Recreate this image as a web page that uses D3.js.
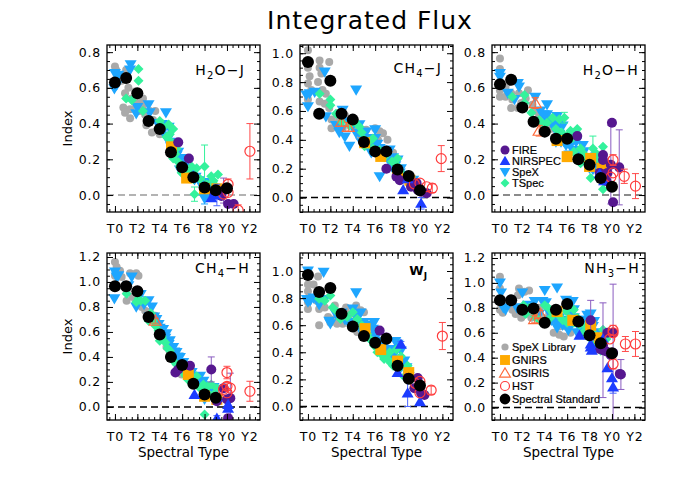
<!DOCTYPE html>
<html><head><meta charset="utf-8">
<script src="https://cdn.jsdelivr.net/npm/d3@7"></script>
<style>body{margin:0;background:#fff}svg{display:block}</style>
</head><body><svg id="c" width="692" height="494"></svg>
<script>
// ---------- tick labels / categories ----------
const SPT_TICKS = [0, 2, 4, 6, 8, 10, 12];
const SPT_LABELS = ["T0", "T2", "T4", "T6", "T8", "Y0", "Y2"];
const TITLE = "Integrated Flux";

// ---------- H2O-J ----------
const h2oj_std = [[0,0.63],[1,0.655],[2,0.57],[3,0.415],[4,0.37],[5,0.24],[6,0.155],[7,0.10],[8,0.042],[9,0.027],[10,0.038]];
const h2oj_lib = [[0,0.72],[0.1,0.70],[1.0,0.70],[0.15,0.66],[0.6,0.64],[1.2,0.6],[0.9,0.57],[1.5,0.54],[0.75,0.49],[0.9,0.46],[1.35,0.48],[1.9,0.5],[2.1,0.52],[2.5,0.5],[2.2,0.47],[1.35,0.43],[2.7,0.45],[3.1,0.47],[3.6,0.47],[3.4,0.42],[2.8,0.39],[3.3,0.35],[3.7,0.36],[4.0,0.34],[4.3,0.39],[2.5,0.54],[1.8,0.58],[2.2,0.55]];
const h2oj_spex = [[0,0.68],[0.15,0.615],[-0.05,0.595],[0.3,0.67],[1.4,0.73],[1.35,0.70],[2.0,0.49],[1.9,0.455],[3.0,0.505],[3.1,0.46],[4.55,0.46],[4.2,0.395],[4.8,0.38],[4.9,0.295],[5.35,0.28],[5.65,0.24],[5.4,0.225],[6.1,0.205],[6.4,0.185],[5.8,0.14],[6.1,0.115],[6.85,0.125],[7.1,0.085],[7.6,0.07],[8.0,0.07],[8.2,0.035],[8.0,-0.02,0.03],[8.5,0.04],[9.1,0.035],[4.5,0.33],[4.7,0.31],[5.0,0.27],[5.2,0.25],[5.5,0.22],[5.7,0.2],[6.0,0.17],[6.3,0.15],[6.6,0.13],[6.9,0.1],[7.2,0.1],[7.5,0.08],[7.8,0.06],[8.3,0.05],[8.7,0.02],[4.3,0.36],[3.8,0.4],[5.9,0.19]];
const h2oj_tspec = [[2.1,0.705],[2.1,0.64],[1.0,0.54],[1.5,0.53],[2.5,0.47],[4.0,0.415],[4.8,0.395],[5.2,0.37],[4.6,0.325],[4.9,0.34],[5.5,0.26],[5.2,0.205],[5.65,0.185],[5.95,0.125],[6.4,0.14],[6.85,0.16],[7.3,0.15],[7.1,0.005,0.04],[8.0,0.16,0.12],[8.6,0.105],[8.8,0.08],[9.2,0.115],[4.3,0.38],[5.0,0.3],[5.4,0.23],[5.8,0.16],[6.1,0.15],[6.6,0.12],[7.0,0.09],[7.6,0.09],[8.2,0.06],[9.0,0.05]];
const h2oj_fire = [[5.65,0.295],[6.6,0.205],[8.9,0.005],[9.5,-0.005],[10.1,-0.05],[10.6,-0.05],[9.7,0.025,0.07]];
const h2oj_nirspec = [[9.1,0.0,0.06],[8.6,-0.015]];
const h2oj_gnirs = [[5.05,0.27],[6.4,0.095],[8.0,0.035],[9.1,0.035]];
const h2oj_osiris = [];
const h2oj_hst = [[12.05,0.245,0.155],[10.1,0.06,0.03],[10.1,0.015],[9.7,0.005],[11.0,-0.085,0.03]];

// ---------- CH4-J ----------
const ch4j_std = [[0,0.94],[1,0.58],[2,0.81],[3,0.58],[4,0.54],[5,0.385],[6,0.32],[7,0.32],[8,0.195],[9,0.15],[10,0.05]];
const ch4j_lib = [[0,1.02],[0,0.9],[0.15,0.84],[0,0.79],[0.3,0.745],[0,0.68],[1.04,0.95],[1.04,0.9],[1.2,0.86],[1.9,0.94],[0.9,0.8],[1.3,0.745],[1.6,0.72],[1.04,0.665],[1.5,0.65],[1.9,0.62],[2.1,0.54],[2.1,0.48],[2.5,0.515],[2.8,0.55],[3.3,0.57],[3.7,0.54],[3.1,0.48],[4.0,0.5],[4.5,0.48],[5.2,0.47],[6.0,0.48],[6.4,0.46],[6.7,0.445],[6.25,0.4],[5.65,0.355],[7.1,0.4],[7.6,0.31],[4.6,0.42]];
const ch4j_spex = [[-0.15,0.71],[0.15,0.72],[0,0.63],[1.5,0.87],[4.3,0.745],[0.6,0.73],[1.6,0.56],[3.0,0.475],[3.1,0.605],[3.6,0.525],[4.0,0.5],[4.6,0.505],[3.7,0.355],[4.3,0.445],[4.9,0.435],[5.2,0.455],[5.5,0.41],[6.0,0.47],[6.0,0.41],[5.65,0.31],[6.4,0.34],[6.85,0.31],[7.3,0.33],[7.6,0.275],[7.0,0.285],[8.0,0.26],[8.2,0.17],[7.9,0.25],[7.6,0.2],[6.4,0.145],[8.5,0.155],[9.1,0.12],[9.4,0.12],[4.8,0.42],[5.3,0.38],[5.8,0.36],[6.2,0.37],[6.6,0.3],[7.1,0.27],[7.4,0.24],[7.8,0.22],[8.3,0.2],[8.7,0.14],[9.0,0.1],[2.5,0.5],[2.8,0.45],[3.3,0.42],[4.8,0.38]];
const ch4j_tspec = [[1.04,0.72],[2.0,0.68],[2.0,0.64],[3.0,0.525],[3.7,0.5],[4.6,0.49],[4.2,0.525],[5.06,0.4],[5.5,0.39],[5.06,0.355],[5.8,0.41],[6.4,0.33],[7.0,0.3],[8.0,0.27],[7.9,0.225],[8.2,0.18],[5.8,0.34],[6.8,0.28],[7.5,0.25],[8.5,0.15],[8.8,0.12],[4.8,0.45],[2.5,0.58]];
const ch4j_fire = [[7.0,0.2],[7.9,0.145],[8.2,0.12],[9.7,0.1],[9.8,0.055],[10.1,0.04],[10.6,0.03],[9.2,0.075]];
const ch4j_nirspec = [[8.5,0.055],[10.1,-0.04,0.04],[8.9,0.13]];
const ch4j_gnirs = [[5.06,0.38],[6.5,0.285],[8.0,0.17],[9.1,0.12]];
const ch4j_osiris = [[3.0,0.525,0.03],[3.6,0.49,0.03]];
const ch4j_hst = [[11.9,0.27,0.09],[9.5,0.095],[10.0,0.1],[10.6,0.075],[11.1,0.065,0.03]];

// ---------- H2O-H ----------
const h2oh_std = [[0,0.62],[1,0.645],[2,0.49],[3,0.41],[4,0.355],[5,0.315],[6,0.315],[7,0.2],[8,0.17],[9,0.095],[10,0.047]];
const h2oh_lib = [[0,0.765],[0,0.705],[0,0.585],[0.5,0.605],[0,0.55],[0.5,0.55],[1.0,0.57],[1.1,0.535],[1.0,0.487],[1.6,0.487],[1.9,0.515],[2.3,0.54],[2.9,0.505],[3.2,0.47],[3.5,0.45],[3.7,0.405],[4.1,0.387],[4.5,0.37],[2.5,0.587],[1.7,0.57],[3.8,0.36],[4.85,0.324]];
const h2oh_spex = [[0,0.68],[0,0.66],[0.7,0.57],[1.6,0.625],[1.7,0.605],[1.3,0.535],[3.15,0.547],[4.2,0.505],[4.2,0.45],[4.05,0.433],[5.1,0.44],[5.3,0.405],[4.7,0.396],[5.6,0.387],[5.0,0.36],[5.0,0.296],[5.45,0.296],[5.9,0.278],[6.3,0.278],[6.8,0.296],[7.4,0.278],[7.5,0.242],[7.7,0.187],[8.1,0.196],[8.3,0.142],[6.2,0.224],[8.6,0.215],[4.5,0.42],[4.8,0.38],[5.3,0.34],[5.7,0.3],[6.0,0.3],[6.5,0.25],[7.0,0.25],[7.2,0.23],[7.8,0.21],[8.0,0.15],[8.8,0.17],[3.6,0.47],[3.9,0.45]];
const h2oh_tspec = [[1.1,0.55],[2.2,0.56],[2.2,0.515],[2.8,0.46],[4.2,0.405],[4.7,0.433],[5.3,0.424],[5.75,0.433,0.03],[6.3,0.36],[6.8,0.35],[6.9,0.37],[6.6,0.242],[7.2,0.26],[8.3,0.26,0.07],[8.6,0.233],[9.2,0.27],[8.1,0.096],[9.2,0.033],[7.2,0.178],[9.5,0.133],[3.5,0.42],[3.8,0.4],[5.0,0.37],[5.5,0.35],[6.0,0.33],[6.5,0.32],[7.5,0.23],[7.8,0.2],[8.8,0.2],[9.0,0.15],[9.3,0.19]];
const h2oh_fire = [[9.9,0.17,0.22],[10.0,0.405],[10.65,0.155,0.21],[10.1,-0.04],[9.2,0.224],[9.2,0.196],[9.6,0.124],[9.5,0.078],[8.9,0.124],[6.9,0.33]];
const h2oh_nirspec = [[8.9,0.12],[9.3,0.08]];
const h2oh_gnirs = [[5.1,0.305],[6.0,0.215],[8.1,0.205],[9.1,0.15],[8.0,0.16]];
const h2oh_osiris = [[3.15,0.515,0.03],[3.5,0.36,0.03]];
const h2oh_hst = [[10.1,0.196,0.03],[10.1,0.124],[11.1,0.105,0.04],[12.1,0.05,0.07],[9.9,0.1]];

// ---------- CH4-H ----------
const ch4h_std = [[0,0.965],[1,0.965],[2,0.925],[3,0.72],[4,0.58],[5,0.40],[6,0.335],[7,0.185],[8,0.10],[9,0.073]];
const ch4h_lib = [[0,1.16],[0.15,1.12],[0.45,1.09],[0,1.05],[0.6,1.04],[1.35,1.07],[1.9,1.07],[2.1,1.05],[1.04,0.92],[1.04,0.85],[1.6,0.88],[2.2,0.84],[2.4,0.8],[2.7,0.77],[3.1,0.76],[3.6,0.73],[3.7,0.69],[4.0,0.56],[4.6,0.48],[4.9,0.435],[5.4,0.38],[5.8,0.34],[6.4,0.315],[6.85,0.234],[5.95,0.26]];
const ch4h_spex = [[0,1.08],[0.15,1.04],[-0.05,0.865],[1.5,1.04],[1.9,0.8],[3.0,0.85],[3.3,0.8],[3.1,0.72],[3.9,0.66],[4.3,0.62],[4.2,0.555],[4.6,0.585],[4.9,0.53],[5.2,0.475],[5.5,0.435],[5.8,0.395],[6.1,0.355],[6.5,0.3],[6.85,0.275],[7.1,0.22],[7.6,0.245],[7.9,0.205],[8.2,0.155],[8.8,0.155],[8.0,0.06],[0.3,1.05],[1.2,0.97],[2.3,0.9],[2.6,0.82],[3.5,0.72],[3.7,0.7],[4.0,0.63],[4.5,0.55],[4.8,0.5],[5.3,0.44],[5.6,0.4],[6.0,0.33],[6.3,0.3],[6.7,0.26],[7.0,0.24],[7.4,0.2],[7.8,0.17],[8.5,0.12]];
const ch4h_tspec = [[1.04,0.905],[2.1,0.865],[1.9,0.84],[2.7,0.85],[3.0,0.69],[3.4,0.69],[3.9,0.61],[4.0,0.53],[4.5,0.515],[4.9,0.45],[5.2,0.37],[5.5,0.34],[6.1,0.275],[6.5,0.22],[7.3,0.245],[7.9,0.18],[8.3,0.165],[9.1,0.15],[8.0,-0.06],[8.6,0.18],[2.3,0.85],[3.2,0.75],[3.6,0.65],[4.2,0.56],[4.7,0.47],[5.0,0.4],[5.8,0.3],[6.3,0.25],[6.8,0.2],[7.1,0.18],[7.6,0.15],[8.2,0.12],[8.8,0.1]];
const ch4h_fire = [[5.4,0.275],[5.65,0.3],[6.7,0.33],[8.6,0.3,0.1],[9.1,0.045],[10.0,0.06],[10.3,0.07,0.2],[10.1,-0.09],[9.7,0.15]];
const ch4h_nirspec = [[7.1,0.1],[9.1,0.08],[10.1,0.02],[10.1,-0.01],[9.1,-0.09,0.02]];
const ch4h_gnirs = [[6.55,0.26],[8.0,0.085],[9.1,0.06]];
const ch4h_osiris = [[3.6,0.69,0.02]];
const ch4h_hst = [[10.0,0.275,0.05],[10.0,0.165,0.03],[9.7,0.14],[10.3,0.15],[12.05,0.125,0.08],[10.0,0.113]];

// ---------- W_J ----------
const wj_std = [[0,0.97],[1,0.845],[2,0.875],[3,0.685],[4,0.59],[5,0.52],[6,0.47],[7,0.50],[8,0.30],[9,0.205],[10,0.155]];
const wj_lib = [[0,1.0],[0,0.9],[0,0.85],[0,0.77],[0,0.72],[0.5,0.9],[0.8,0.78],[0.9,0.96],[1.0,0.8],[1.3,0.755],[1.0,0.72],[1.5,0.73],[1.0,0.6],[1.8,0.66],[2.0,0.62],[2.4,0.745],[2.4,0.645],[3.0,0.67],[3.4,0.73],[3.7,0.68],[4.3,0.745],[4.7,0.71],[5.0,0.695],[4.1,0.63],[3.1,0.61],[2.6,0.61],[4.4,0.55]];
const wj_spex = [[0,1.0],[-0.1,0.79],[0.2,0.78],[0,0.77],[1.4,0.99],[1.5,0.79],[1.9,0.63],[2.0,0.61],[3.0,0.69],[4.3,0.84],[4.0,0.72],[4.3,0.66],[4.7,0.69],[5.0,0.62],[5.4,0.6],[5.8,0.57],[5.9,0.62],[5.4,0.51],[5.9,0.5],[6.2,0.53],[6.6,0.47],[6.9,0.46],[7.4,0.42],[7.8,0.48],[8.0,0.46],[7.7,0.385],[8.3,0.41],[8.6,0.335],[8.8,0.285],[8.2,0.275],[0.5,0.8],[1.0,0.75],[2.5,0.68],[3.3,0.64],[3.6,0.62],[4.5,0.6],[4.8,0.55],[5.2,0.56],[5.6,0.52],[6.0,0.48],[6.4,0.44],[7.0,0.42],[7.2,0.38],[7.6,0.35],[8.4,0.3],[9.0,0.22]];
const wj_tspec = [[1.0,0.795],[2.0,0.82],[2.2,0.73],[2.9,0.645],[4.0,0.695],[4.4,0.645],[5.0,0.57],[5.3,0.535],[5.7,0.485],[6.1,0.445],[6.4,0.42],[6.8,0.37],[7.3,0.4],[7.9,0.42],[8.0,0.335],[8.3,0.37],[8.9,0.26],[8.9,0.3],[6.8,0.35],[7.4,0.32],[1.5,0.78],[2.6,0.7],[3.5,0.66],[4.8,0.6],[5.5,0.5],[5.9,0.45],[6.2,0.4],[6.6,0.38],[7.1,0.35],[7.6,0.3],[8.1,0.28],[8.6,0.22],[9.2,0.2]];
const wj_fire = [[6.4,0.56],[7.0,0.51],[8.9,0.21],[9.8,0.21],[10.1,0.1],[10.4,0.085],[9.5,0.135]];
const wj_nirspec = [[8.3,0.46,0.02],[10.0,0.035],[8.9,0.1,0.1],[8.0,0.25]];
const wj_gnirs = [[5.1,0.575],[6.5,0.42],[8.0,0.335],[9.0,0.25]];
const wj_osiris = [];
const wj_hst = [[12.0,0.52,0.1],[10.0,0.185],[10.0,0.1],[11.0,0.12,0.03],[9.6,0.17]];

// ---------- NH3-H ----------
const nh3h_std = [[0,0.86],[1,0.86],[2,0.785],[3,0.795],[4,0.68],[5,0.785],[6,0.83],[7,0.69],[8,0.58],[9,0.515],[10,0.435]];
const nh3h_lib = [[0,1.05],[0,0.955],[0,0.785],[0.25,0.76],[1.1,0.785],[1.4,0.75],[1.7,0.955],[2.2,0.93],[2.6,0.94],[1.9,0.72],[2.3,0.75],[2.8,0.72],[3.2,0.75],[3.8,0.72],[4.4,0.75],[4.7,0.695],[5.0,0.72],[5.3,0.65],[5.6,0.68],[4.8,0.6],[5.3,0.585],[5.9,0.65],[5.7,0.57],[6.3,0.6],[1.6,0.9],[3.5,0.8]];
const nh3h_spex = [[0,1.0],[0.1,0.92],[0.5,0.785],[2.0,0.92],[3.1,0.85],[4.0,0.94],[5.1,0.96],[4.1,0.84],[4.4,0.76],[5.0,0.69],[5.3,0.72],[5.1,0.64],[5.6,0.66],[5.9,0.86],[6.5,0.85],[6.6,0.785],[6.6,0.72],[6.9,0.67],[7.2,0.64],[7.5,0.7],[7.8,0.74],[8.1,0.75],[8.3,0.65],[8.0,0.61],[8.4,0.69],[0.3,0.8],[1.5,0.8],[2.5,0.82],[3.5,0.75],[3.8,0.85],[4.6,0.7],[5.8,0.7],[6.2,0.75],[6.9,0.6],[7.3,0.7],[7.7,0.6],[8.6,0.6],[8.8,0.55],[6.1,0.62]];
const nh3h_tspec = [[2.1,0.82],[2.3,0.75],[3.1,0.73],[4.0,0.82],[4.3,0.8],[4.7,0.76],[5.3,0.735],[5.9,0.775],[6.2,0.72],[6.6,0.785],[6.6,0.68],[7.1,0.665],[7.7,0.65],[8.1,0.625],[8.4,0.59],[8.9,0.56],[9.2,0.625],[8.6,0.535],[9.0,0.455],[8.0,0.56],[2.6,0.8],[3.5,0.7],[4.5,0.72],[5.0,0.78],[5.6,0.7],[6.0,0.68],[6.9,0.72],[7.4,0.6],[7.9,0.6],[8.3,0.55],[8.7,0.5],[9.5,0.55]];
const nh3h_fire = [[8.1,0.7,0.16],[9.2,0.46,0.38],[10.1,0.44,0.55],[9.6,0.6],[10.1,0.6],[9.2,0.5],[9.5,0.45],[10.7,0.27],[10.8,0.265,0.12],[8.9,0.47],[9.9,0.42]];
const nh3h_nirspec = [[7.1,0.58],[8.1,0.51],[8.1,0.485],[8.2,0.46],[9.6,0.32],[10.0,0.24],[10.1,0.165,0.05],[9.2,0.55]];
const nh3h_gnirs = [[5.1,0.77],[6.5,0.7],[8.1,0.66],[8.9,0.56]];
const nh3h_osiris = [[3.1,0.71,0.03],[3.6,0.75,0.03]];
const nh3h_hst = [[10.1,0.62,0.04],[10.1,0.6],[9.8,0.55],[10.1,0.35,0.04],[11.2,0.51,0.06],[12.1,0.51,0.1]];

// ---------- legends ----------
const LEGEND_A_KEYS = ["fire", "nirspec", "spex", "tspec"];
const LEGEND_A_LABELS = ["FIRE", "NIRSPEC", "SpeX", "TSpec"];
const LEGEND_B_KEYS = ["lib", "gnirs", "osiris", "hst", "std"];
const LEGEND_B_LABELS = ["SpeX Library", "GNIRS", "OSIRIS", "HST", "Spectral Standard"];

// ---------- panel table built from the arrays ----------
const panels = [
  {label:[["H",0],["2",1],["O\u2212J",0]], yDomain:[-0.095,0.84], zero:"#9a9a9a",
   d:{lib:h2oj_lib,spex:h2oj_spex,tspec:h2oj_tspec,gnirs:h2oj_gnirs,fire:h2oj_fire,nirspec:h2oj_nirspec,osiris:h2oj_osiris,hst:h2oj_hst,std:h2oj_std}},
  {label:[["CH",0],["4",1],["\u2212J",0]], yDomain:[-0.1,1.057], zero:"#000",
   d:{lib:ch4j_lib,spex:ch4j_spex,tspec:ch4j_tspec,gnirs:ch4j_gnirs,fire:ch4j_fire,nirspec:ch4j_nirspec,osiris:ch4j_osiris,hst:ch4j_hst,std:ch4j_std}},
  {label:[["H",0],["2",1],["O\u2212H",0]], yDomain:[-0.095,0.84], zero:"#666",
   d:{lib:h2oh_lib,spex:h2oh_spex,tspec:h2oh_tspec,gnirs:h2oh_gnirs,fire:h2oh_fire,nirspec:h2oh_nirspec,osiris:h2oh_osiris,hst:h2oh_hst,std:h2oh_std}, legend:"A"},
  {label:[["CH",0],["4",1],["\u2212H",0]], yDomain:[-0.105,1.232], zero:"#000",
   d:{lib:ch4h_lib,spex:ch4h_spex,tspec:ch4h_tspec,gnirs:ch4h_gnirs,fire:ch4h_fire,nirspec:ch4h_nirspec,osiris:ch4h_osiris,hst:ch4h_hst,std:ch4h_std}},
  {label:[["W",0],["J",1]], yDomain:[-0.1,1.133], zero:"#000", bold:true,
   d:{lib:wj_lib,spex:wj_spex,tspec:wj_tspec,gnirs:wj_gnirs,fire:wj_fire,nirspec:wj_nirspec,osiris:wj_osiris,hst:wj_hst,std:wj_std}},
  {label:[["NH",0],["3",1],["\u2212H",0]], yDomain:[-0.1,1.24], zero:"#000",
   d:{lib:nh3h_lib,spex:nh3h_spex,tspec:nh3h_tspec,gnirs:nh3h_gnirs,fire:nh3h_fire,nirspec:nh3h_nirspec,osiris:nh3h_osiris,hst:nh3h_hst,std:nh3h_std}, legend:"B"}
];

// ---------- styles ----------
const STYLE = {
  lib:    {shape:"circle", r:4,   fill:"#a9a9a9"},
  spex:   {shape:"tridown", r:6,  fill:"#1ea6ff"},
  tspec:  {shape:"diamond", r:5,  fill:"#33f29c"},
  gnirs:  {shape:"square", r:5.5, fill:"#ffaa00"},
  fire:   {shape:"circle", r:5,   fill:"#56178f"},
  nirspec:{shape:"triup", r:6,    fill:"#1c3cff"},
  osiris: {shape:"triup", r:6,    fill:"none", stroke:"#ff6a3a"},
  hst:    {shape:"circle", r:5,   fill:"none", stroke:"#ff3b3b"},
  std:    {shape:"circle", r:6,   fill:"#000"}
};
const ORDER = ["lib","spex","tspec","gnirs","fire","nirspec","osiris","hst","std"];
const ERRCOL = {lib:"#a9a9a9",spex:"#1ea6ff",tspec:"#33f29c",gnirs:"#ffaa00",fire:"#8a5cc0",nirspec:"#4a66ff",osiris:"#ff6a3a",hst:"#ff4a4a",std:"#000"};

function shapePath(shape, r) {
  if (shape === "tridown") return `M${-r},${-r*0.75}L${r},${-r*0.75}L0,${r*0.95}Z`;
  if (shape === "triup") return `M${-r},${r*0.75}L${r},${r*0.75}L0,${-r*0.95}Z`;
  if (shape === "diamond") return `M0,${-r}L${r},0L0,${r}L${-r},0Z`;
  if (shape === "square") return `M${-r},${-r}H${r}V${r}H${-r}Z`;
  return d3.arc()({innerRadius:0,outerRadius:r,startAngle:0,endAngle:2*Math.PI});
}

const svg = d3.select("#c");
const FONT = "DejaVu Sans, Liberation Sans, sans-serif";
const X_DOMAIN = [-0.71, 12.95];
const PW = 153, PH = 167;
const PX = [107, 300, 492], PY = [45, 253];
const LABEL_POS = [[245,75],[442,73],[639,75],[250,273],[427,275],[640,273]];

svg.append("text").attr("x", 370).attr("y", 29).attr("text-anchor","middle")
  .attr("font-family", FONT).attr("font-size", 25).attr("letter-spacing", 1)
  .attr("fill", "#000").text(TITLE);

panels.forEach((p, i) => {
  const col = i % 3, row = Math.floor(i / 3);
  const x0 = PX[col], y0 = PY[row];
  const g = svg.append("g").attr("transform", `translate(${x0},${y0})`);
  const x = d3.scaleLinear().domain(X_DOMAIN).range([0, PW]);
  const y = d3.scaleLinear().domain(p.yDomain).range([PH, 0]);

  g.append("clipPath").attr("id", "clip" + i).append("rect").attr("width", PW).attr("height", PH);
  const plot = g.append("g").attr("clip-path", `url(#clip${i})`);

  plot.append("line").attr("x1", 0).attr("x2", PW).attr("y1", y(0)).attr("y2", y(0))
    .attr("stroke", p.zero).attr("stroke-width", 1.5).attr("stroke-dasharray", "7,4");

  ORDER.forEach(k => {
    const data = p.d[k] || [];
    const st = STYLE[k];
    const errs = data.filter(v => v.length > 2);
    const eg = plot.append("g").attr("stroke", ERRCOL[k]).attr("stroke-width", 1);
    errs.forEach(v => {
      const xx = x(v[0]), ya = y(v[1] - v[2]), yb = y(v[1] + v[2]);
      eg.append("line").attr("x1", xx).attr("x2", xx).attr("y1", ya).attr("y2", yb);
      eg.append("line").attr("x1", xx - 3.5).attr("x2", xx + 3.5).attr("y1", ya).attr("y2", ya);
      eg.append("line").attr("x1", xx - 3.5).attr("x2", xx + 3.5).attr("y1", yb).attr("y2", yb);
    });
    plot.append("g").selectAll("path").data(data).join("path")
      .attr("transform", v => `translate(${x(v[0])},${y(v[1])})`)
      .attr("d", shapePath(st.shape, st.r))
      .attr("fill", st.fill).attr("stroke", st.stroke || "none").attr("stroke-width", 1.2);
  });

  // frame
  g.append("rect").attr("width", PW).attr("height", PH).attr("fill", "none")
    .attr("stroke", "#000").attr("stroke-width", 1.3);

  const yMaj = d3.range(0, p.yDomain[1] + 1e-6, 0.2);
  const yMin = d3.range(Math.ceil(p.yDomain[0] / 0.05) * 0.05, p.yDomain[1], 0.05);
  const xMin = d3.range(-0.5, 13, 0.5);
  const clean = s => s.call(a => a.select(".domain").remove());

  const axes = [
    [d3.axisBottom(x).tickValues(SPT_TICKS).tickSize(-6).tickPadding(0).tickFormat(""), `translate(0,${PH})`],
    [d3.axisBottom(x).tickValues(xMin).tickSize(-3).tickFormat(""), `translate(0,${PH})`],
    [d3.axisTop(x).tickValues(SPT_TICKS).tickSize(-6).tickFormat(""), ""],
    [d3.axisTop(x).tickValues(xMin).tickSize(-3).tickFormat(""), ""],
    [d3.axisLeft(y).tickValues(yMin).tickSize(-3).tickFormat(""), ""],
    [d3.axisRight(y).tickValues(yMaj).tickSize(-6).tickFormat(""), `translate(${PW},0)`],
    [d3.axisRight(y).tickValues(yMin).tickSize(-3).tickFormat(""), `translate(${PW},0)`]
  ];
  axes.forEach(([ax, tr]) => g.append("g").attr("transform", tr).call(ax).call(clean)
    .selectAll("line").attr("stroke", "#000").attr("stroke-width", 1));

  // labelled axes
  const ly = g.append("g").call(d3.axisLeft(y).tickValues(yMaj).tickSize(-6).tickPadding(6).tickFormat(d3.format(".1f"))).call(clean);
  ly.selectAll("line").attr("stroke", "#000");
  ly.selectAll("text").attr("font-family", FONT).attr("font-size", 12.5).attr("letter-spacing", 0.8).attr("fill", "#000");
  const lx = g.append("g").attr("transform", `translate(0,${PH})`)
    .call(d3.axisBottom(x).tickValues(SPT_TICKS).tickSize(0).tickPadding(12).tickFormat((d, j) => SPT_LABELS[j])).call(clean);
  lx.selectAll("text").attr("font-family", FONT).attr("font-size", 12.5).attr("letter-spacing", 0.8).attr("fill", "#000");

  // panel label
  const lp = LABEL_POS[i];
  const t = svg.append("text").attr("x", lp[0]).attr("y", lp[1]).attr("text-anchor", "end")
    .attr("font-family", FONT).attr("font-size", p.bold ? 13 : 14).attr("font-weight", p.bold ? "bold" : "normal")
    .attr("letter-spacing", p.bold ? 0 : 1.2);
  p.label.forEach(([s, sub]) => {
    const ts = t.append("tspan").text(s);
    if (sub) ts.attr("font-size", p.bold ? 9 : 10).attr("dy", 4);
    else ts.attr("dy", ts.node().previousSibling ? -4 : 0);
  });

  if (col === 0) {
    svg.append("text").attr("transform", `translate(67,${y0 + PH / 2}) rotate(-90)`)
      .attr("text-anchor", "middle").attr("dy", "0.35em")
      .attr("font-family", FONT).attr("font-size", 13).text("Index");
  }
  if (row === 1) {
    svg.append("text").attr("x", x0 + PW / 2).attr("y", 457).attr("text-anchor", "middle")
      .attr("font-family", FONT).attr("font-size", 13.5).text("Spectral Type");
  }

  if (p.legend) {
    const keys = p.legend === "A" ? LEGEND_A_KEYS : LEGEND_B_KEYS;
    const labels = p.legend === "A" ? LEGEND_A_LABELS : LEGEND_B_LABELS;
    const top = p.legend === "A" ? 105 : 94;
    const step = p.legend === "A" ? 11 : 13;
    keys.forEach((k, j) => {
      const st = STYLE[k];
      const cy = top + j * step;
      g.append("path").attr("transform", `translate(13,${cy})`)
        .attr("d", shapePath(st.shape, st.r * 0.9))
        .attr("fill", st.fill).attr("stroke", st.stroke || "none").attr("stroke-width", 1.2);
      g.append("text").attr("x", 20).attr("y", cy).attr("dy", "0.36em")
        .attr("font-family", "Liberation Sans, Arial, sans-serif").attr("font-size", 11)
        .attr("stroke", "#000").attr("stroke-width", 0.2).text(labels[j]);
    });
  }
});
</script></body></html>
